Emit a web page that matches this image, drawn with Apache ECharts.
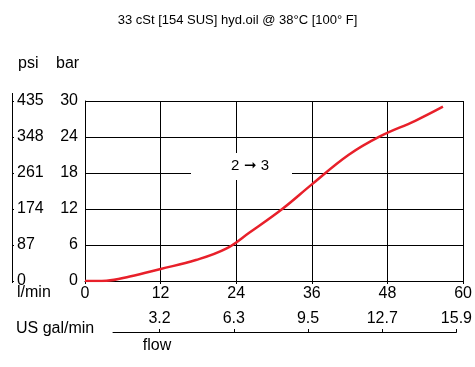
<!DOCTYPE html>
<html><head><meta charset="utf-8">
<script src="https://cdn.jsdelivr.net/npm/echarts@6/dist/echarts.min.js"></script>
<style>html,body{margin:0;padding:0;background:#fff}#c{width:475px;height:367px}</style>
</head><body><div id="c"></div>
<script>
var titleText = '33 cSt [154 SUS] hyd.oil @ 38°C [100° F]';
var flowLpm = [0, 3.4, 7.1, 12, 17.6, 22.4, 26, 31.3, 36, 41.8, 46.8, 52.4, 56.8];
var pressureBar = [0, 0.05, 0.75, 2.0, 3.5, 5.4, 8.0, 12, 16.1, 21, 24.1, 26.7, 29.05];
var flowTicks = [12, 24, 36, 48, 60];
var galLabels = ['3.2', '6.3', '9.5', '12.7', '15.9'];
var psiMax = 435, psiStep = 87;
var barMax = 30, barStep = 6;

var FONT = 'Liberation Sans, Arial, sans-serif';
var FS = 16;
var chart = echarts.init(document.getElementById('c'), null, {renderer: 'canvas'});
var data = flowLpm.map(function (f, i) { return [f, pressureBar[i]]; });
chart.setOption({
  animation: false,
  textStyle: {fontFamily: FONT, color: '#000'},
  title: {text: titleText, left: 'center', top: 9, textStyle: {fontSize: 13, fontWeight: 'normal', color: '#000', fontFamily: FONT}},
  grid: [
    {left: 85, right: 10, top: 101, bottom: 86},
    {left: 113, right: 10, top: 300, bottom: 35}
  ],
  xAxis: [
    {type: 'value', gridIndex: 0, min: 0, max: 60, interval: 12,
     axisLine: {show: true, lineStyle: {color: '#000', width: 1}},
     axisTick: {show: true, length: 3, lineStyle: {color: '#000'}},
     axisLabel: {margin: 5, fontSize: FS, color: '#000', fontFamily: FONT},
     splitLine: {show: true, lineStyle: {color: '#000', width: 1}}},
    {type: 'value', gridIndex: 1, min: 4.47, max: 60,
     axisLine: {show: true, lineStyle: {color: '#000', width: 1}},
     axisTick: {show: true, inside: true, length: 3, customValues: flowTicks, lineStyle: {color: '#000'}},
     axisLabel: {inside: true, margin: 5, fontSize: FS, color: '#000', fontFamily: FONT, customValues: flowTicks,
       formatter: function (v) { var i = flowTicks.indexOf(v); return i >= 0 ? galLabels[i] : ''; }},
     splitLine: {show: false}}
  ],
  yAxis: [
    {type: 'value', gridIndex: 0, min: 0, max: barMax, interval: barStep,
     axisLine: {show: true, lineStyle: {color: '#000', width: 1}},
     axisTick: {show: false},
     axisLabel: {margin: 7, fontSize: FS, color: '#000', fontFamily: FONT},
     splitLine: {show: true, lineStyle: {color: '#000', width: 1}}},
    {type: 'value', gridIndex: 0, position: 'left', offset: 73, min: 0, max: psiMax, interval: psiStep,
     axisLine: {show: true, lineStyle: {color: '#000', width: 1}},
     axisTick: {show: true, inside: true, length: 2, lineStyle: {color: '#000'}},
     axisLabel: {inside: true, margin: 5, fontSize: FS, color: '#000', fontFamily: FONT},
     splitLine: {show: false}},
    {type: 'value', gridIndex: 1, show: false}
  ],
  graphic: [
    {type: 'rect', shape: {x: 191, y: 153, width: 101, height: 27}, style: {fill: '#fff'}, z: 100},
    {type: 'text', x: 250, y: 166, z: 101, style: {text: '2 ➞ 3', fill: '#000', font: '15px ' + FONT, align: 'center', verticalAlign: 'middle'}},
    {type: 'line', shape: {x1: 12.5, y1: 93, x2: 12.5, y2: 283}, style: {stroke: '#000', lineWidth: 1}},
    {type: 'text', x: 18, y: 64, style: {text: 'psi', fill: '#000', font: FS + 'px ' + FONT, verticalAlign: 'middle'}},
    {type: 'text', x: 56, y: 64, style: {text: 'bar', fill: '#000', font: FS + 'px ' + FONT, verticalAlign: 'middle'}},
    {type: 'text', x: 17, y: 293, style: {text: 'l/min', fill: '#000', font: FS + 'px ' + FONT, verticalAlign: 'middle'}},
    {type: 'text', x: 16, y: 329, style: {text: 'US gal/min', fill: '#000', font: FS + 'px ' + FONT, verticalAlign: 'middle'}},
    {type: 'text', x: 157, y: 346, style: {text: 'flow', fill: '#000', font: FS + 'px ' + FONT, align: 'center', verticalAlign: 'middle'}}
  ],
  series: [{
    type: 'line', xAxisIndex: 0, yAxisIndex: 0, data: data, smooth: 0.4, showSymbol: false,
    lineStyle: {color: '#e8202a', width: 2.5}, z: 5
  }]
});
</script></body></html>
